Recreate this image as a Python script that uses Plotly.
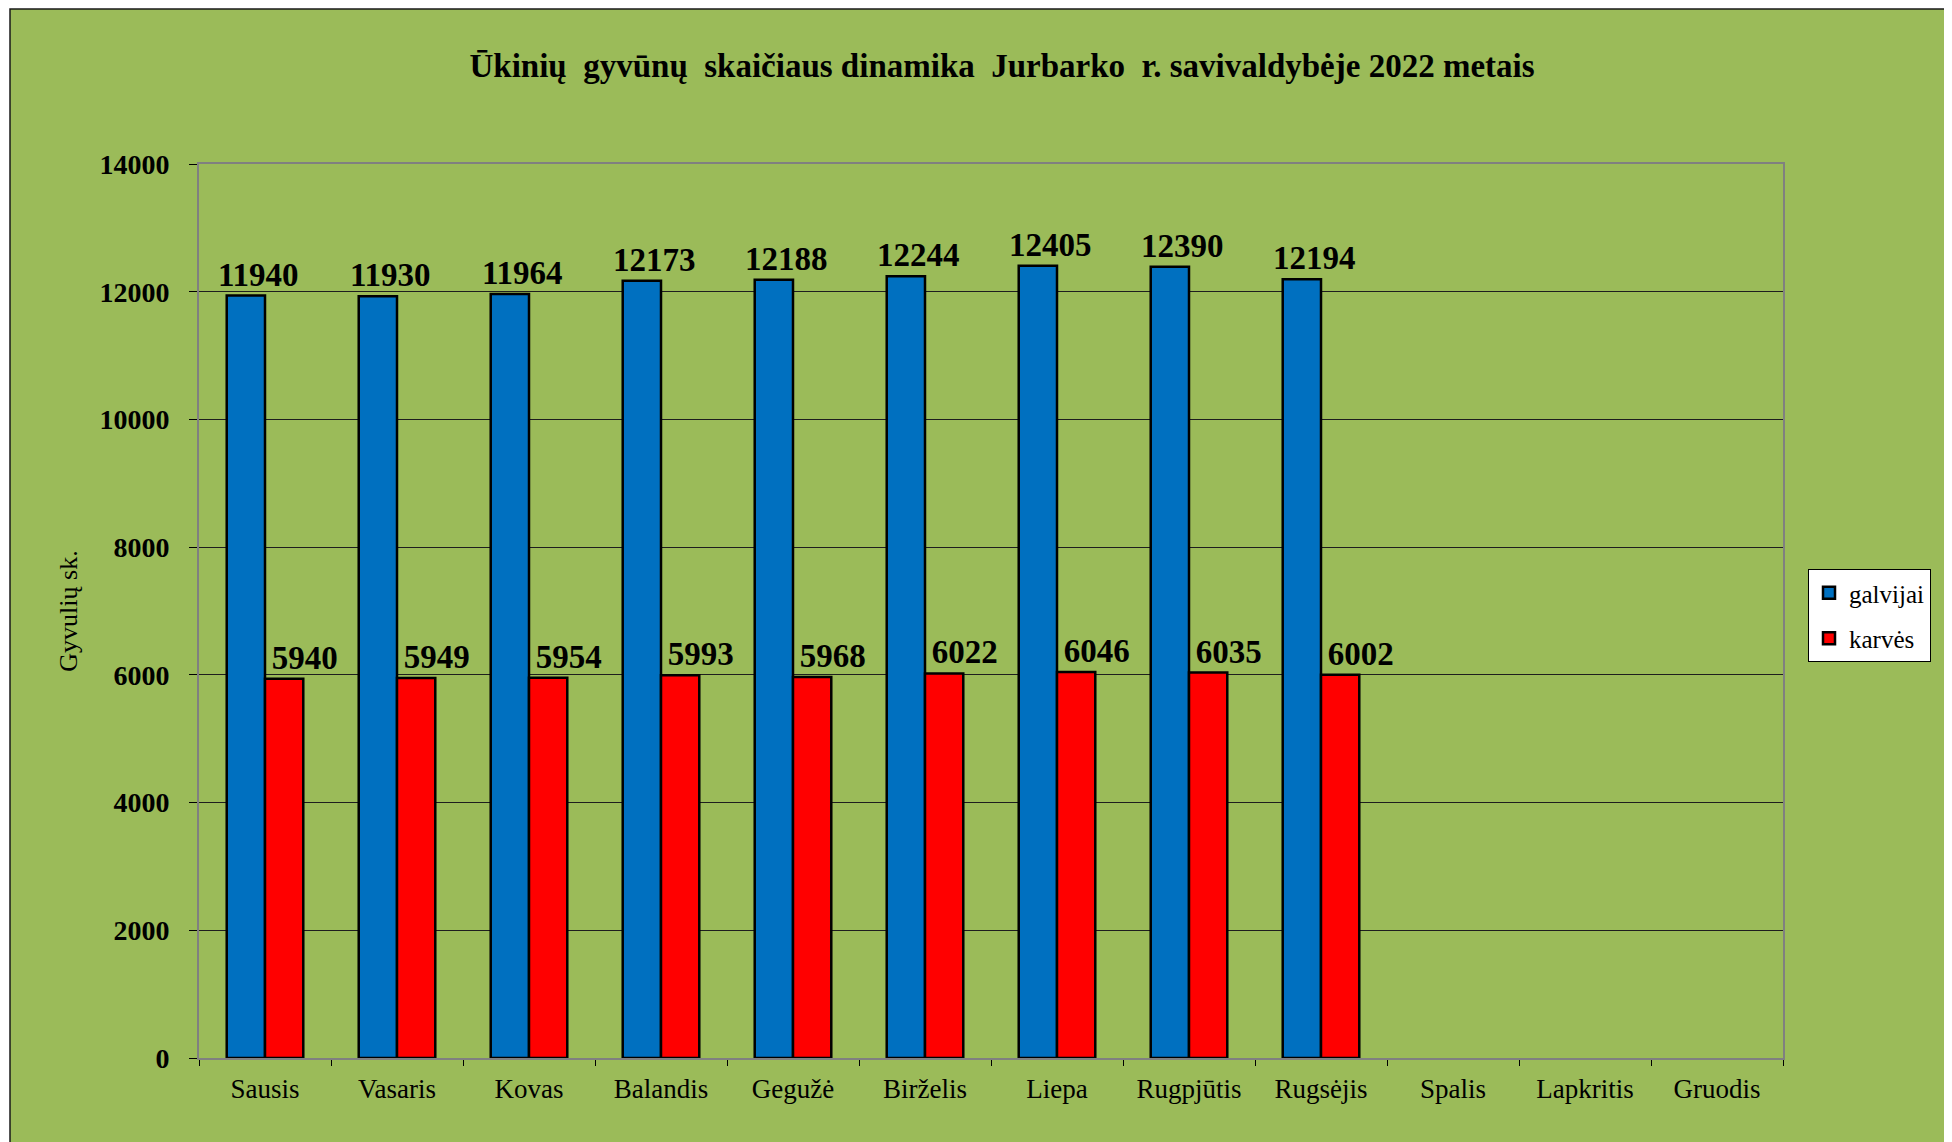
import plotly.graph_objects as go

months = ["Sausis", "Vasaris", "Kovas", "Balandis", "Gegužė", "Birželis",
          "Liepa", "Rugpjūtis", "Rugsėjis", "Spalis", "Lapkritis", "Gruodis"]
galvijai = [11940, 11930, 11964, 12173, 12188, 12244, 12405, 12390, 12194, None, None, None]
karves = [5940, 5949, 5954, 5993, 5968, 6022, 6046, 6035, 6002, None, None, None]

# page has an 8px body margin; work in reference pixel coords and shift
OFF = 8
W, H = 1952 - OFF, 1142 - OFF
L, R, T, B = 199 - OFF, 169, 164 - OFF, 84
PW, PH = W - L - R, H - T - B

def px_x(p):
    return (p - OFF - L) / PW

def px_y(p):
    return (H - B - (p - OFF)) / PH

serif = "Liberation Serif, Times New Roman, serif"
green = "#9BBB59"

def lab(vals):
    return [str(v) if v is not None else "" for v in vals]

NB = "\u00a0"

fig = go.Figure()
fig.add_trace(go.Bar(
    name="galvijai", x=months, y=galvijai, legendgroup="g1",
    marker=dict(color="#0070C0", line=dict(color="black", width=2.5)),
    text=lab(galvijai), textposition="outside", cliponaxis=False,
    constraintext="none",
    texttemplate=NB * 3 + "<b>%{text}</b>",
    textfont=dict(family=serif, size=33, color="black"),
))
fig.add_trace(go.Bar(
    name="karvės", x=months, y=karves, legendgroup="g2",
    marker=dict(color="#FF0000", line=dict(color="black", width=2.5)),
    text=lab(karves), textposition="outside", cliponaxis=False,
    constraintext="none",
    texttemplate=NB * 5 + "<b>%{text}</b>",
    textfont=dict(family=serif, size=33, color="black"),
))

fig.update_layout(
    width=W, height=H,
    margin=dict(l=L, r=R, t=T, b=B),
    paper_bgcolor="white",
    plot_bgcolor=green,
    barmode="group", bargap=0.42, bargroupgap=0,
    font=dict(family=serif, color="black"),
    title=dict(
        text="<b>Ūkinių  gyvūnų  skaičiaus dinamika  Jurbarko  r. savivaldybėje 2022 metais</b>",
        font=dict(family=serif, size=33, color="black"),
        x=px_x(1002), xref="paper", xanchor="center",
        y=1 - (65 - OFF) / H, yref="container", yanchor="middle",
    ),
    legend=dict(
        x=px_x(1808), y=px_y(569), xanchor="left", yanchor="top",
        bgcolor="white", bordercolor="black", borderwidth=1,
        font=dict(family=serif, size=25, color="black"),
        traceorder="grouped", tracegroupgap=10,
        itemwidth=30,
    ),
    shapes=[dict(
        type="rect", xref="paper", yref="paper", layer="below",
        x0=px_x(10), x1=px_x(1952 + 20), y0=px_y(1142 + 20), y1=px_y(9),
        fillcolor=green, line=dict(color="#1a1a1a", width=1.5),
    )],
)

fig.update_xaxes(
    categoryorder="array", categoryarray=months,
    tickson="boundaries", ticks="outside", ticklen=6, tickcolor="black",
    showline=True, linecolor="#808080", linewidth=2, mirror=True,
    tickfont=dict(family=serif, size=27, color="black"),
    ticklabelstandoff=6,
    showgrid=False,
)
fig.update_yaxes(
    range=[0, 14000], dtick=2000, tickformat="d",
    ticks="outside", ticklen=8, tickcolor="black",
    showline=True, linecolor="#808080", linewidth=2, mirror=True,
    showgrid=True, gridcolor="#1e1e1e", gridwidth=1,
    zeroline=False,
    tickfont=dict(family=serif, size=28, color="black"),
    ticklabelstandoff=14,
    tickprefix="<b>", ticksuffix="</b>",
    title=dict(text="Gyvulių sk.", font=dict(family=serif, size=26, color="black"), standoff=14),
)

fig.write_html("out.html")
